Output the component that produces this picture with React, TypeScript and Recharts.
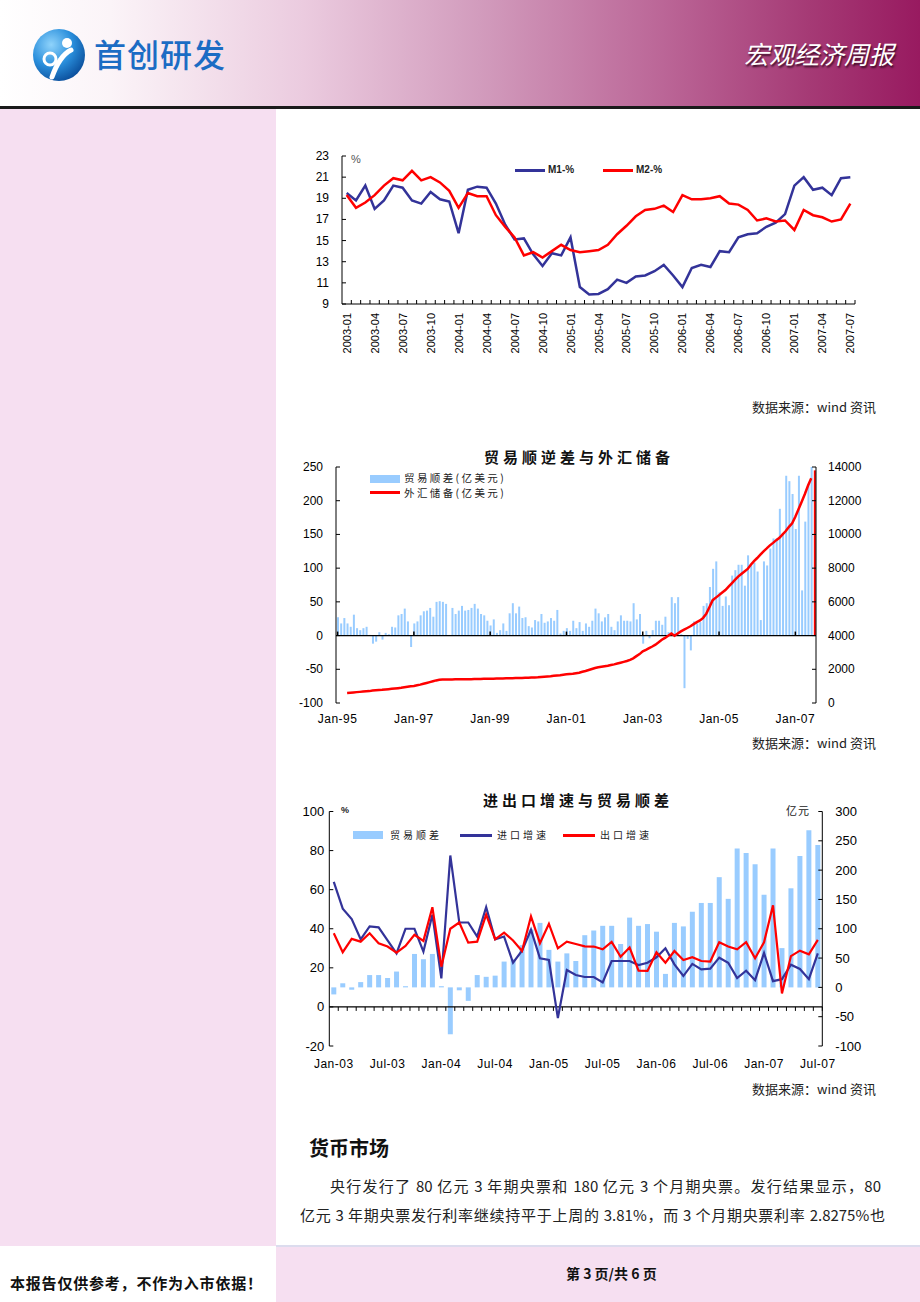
import React from "react";
import { ComposedChart, Line, Bar, Cell, XAxis, YAxis, ReferenceLine } from "recharts";

const NUM_FONT = "'Liberation Sans', Arial, Helvetica, sans-serif";
const CJK_FONT = "'Noto Sans CJK SC', 'Noto Sans', sans-serif";
const NAVY = "#333399";
const RED = "#FF0000";
const BAR_BLUE = "#99CCFF";
const PINK = "#F6DFF1";

const MONTH_NAMES = ["Jan", "Feb", "Mar", "Apr", "May", "Jun", "Jul", "Aug", "Sep", "Oct", "Nov", "Dec"];

// month category keys, e.g. "2003-01" or "Jan-03"
function months(y0: number, count: number, style: "iso" | "mon"): string[] {
  const out: string[] = [];
  for (let k = 0; k < count; k++) {
    const y = y0 + Math.floor(k / 12);
    const m = k % 12;
    out.push(
      style === "iso"
        ? `${y}-${String(m + 1).padStart(2, "0")}`
        : `${MONTH_NAMES[m]}-${String(y % 100).padStart(2, "0")}`
    );
  }
  return out;
}

// ---- chart 1: M1 / M2 growth, 2003-01 .. 2007-07 ----
const MS_MONTHS = months(2003, 55, "iso");
const M1 = [
  19.5, 18.8, 20.2, 18.0, 18.8, 20.2, 20.0, 18.8, 18.5, 19.6, 18.9, 18.7,
  15.7, 19.8, 20.1, 20.0, 18.5, 16.5, 15.1, 15.2, 13.7, 12.6, 13.8, 13.6,
  15.3, 10.6, 9.9, 9.95, 10.4, 11.3, 11.0, 11.6, 11.7, 12.1, 12.7, 11.7,
  10.6, 12.4, 12.7, 12.5, 14.0, 13.9, 15.3, 15.6, 15.7, 16.3, 16.7, 17.5,
  20.2, 21.0, 19.8, 20.0, 19.3, 20.9, 21.0,
];
const M2 = [
  19.3, 18.1, 18.6, 19.3, 20.2, 20.9, 20.7, 21.6, 20.7, 21.0, 20.5, 19.7,
  18.1, 19.5, 19.2, 19.2, 17.4, 16.3, 15.3, 13.6, 13.9, 13.4, 14.0, 14.6,
  14.1, 13.9, 14.0, 14.1, 14.6, 15.6, 16.4, 17.3, 17.9, 18.0, 18.3, 17.7,
  19.3, 18.9, 18.9, 19.0, 19.2, 18.5, 18.4, 17.9, 16.9, 17.1, 16.8, 16.9,
  16.0, 17.9, 17.4, 17.2, 16.8, 17.0, 18.5,
];
const MS_TICK_LABELS = [
  "2003-01", "2003-04", "2003-07", "2003-10", "2004-01", "2004-04", "2004-07",
  "2004-10", "2005-01", "2005-04", "2005-07", "2005-10", "2006-01", "2006-04",
  "2006-07", "2006-10", "2007-01", "2007-04", "2007-07",
];
const MS_Y_TICKS = [9, 11, 13, 15, 17, 19, 21, 23];

// ---- chart 2: trade balance & FX reserves, Jan-95 .. Jul-07 (亿美元) ----
const TRADE_MONTHS = months(1995, 151, "mon");
// last entry is the red bar at the right edge
const TRADE_BAL = [
  27, 18, 26, 18, 13, 31, 11, 8, 11, 13, 1, -12,
  -9, 5, -6, 4, 2, 13, 12, 30, 32, 40, 21, -17,
  18, 21, 30, 36, 37, 41, 28, 50, 51, 50, 47, 1,
  41, 32, 37, 44, 37, 38, 41, 47, 40, 32, 30, 22,
  15, 24, 4, 8, 18, 7, 33, 48, 33, 43, 26, 27,
  14, 12, 23, 21, 32, 19, 21, 26, 22, 38, 3, 7,
  11, 7, 22, 11, 20, 7, 18, 13, 22, 40, 33, 21,
  27, 32, 13, 8, 21, 30, 22, 22, 21, 48, 24, 32,
  -12, 7, -4, 8, 22, 22, 16, 28, 5, 57, 48, 57,
  2, -78, -5, -22, 21, 18, 20, 44, 48, 72, 99, 110,
  64, 44, 58, 45, 89, 97, 105, 105, 74, 119, 105, 108,
  95, 23, 110, 104, 129, 144, 144, 188, 151, 237, 229, 210,
  158, 237, 67, 169, 224, 255, 245,
];
const FX_RESERVES = [
  null, null, null, 600, 615, 630, 645, 660, 675, 690, 705, 736,
  750, 765, 780, 800, 820, 840, 860, 880, 900, 930, 960, 990,
  1010, 1050, 1090, 1140, 1190, 1240, 1290, 1340, 1380, 1390, 1395, 1398,
  1400, 1402, 1404, 1406, 1408, 1410, 1415, 1420, 1425, 1430, 1435, 1438,
  1440, 1445, 1450, 1455, 1460, 1465, 1470, 1475, 1480, 1485, 1490, 1495,
  1500, 1510, 1520, 1530, 1545, 1560, 1575, 1590, 1610, 1630, 1650, 1680,
  1700, 1720, 1740, 1770, 1800, 1850, 1900, 1960, 2020, 2080, 2120, 2150,
  2180, 2210, 2250, 2290, 2340, 2390, 2440, 2490, 2560, 2650, 2780, 2900,
  3060, 3150, 3250, 3350, 3460, 3600, 3750, 3860, 3990, 4120, 3990, 4120,
  4250, 4350, 4450, 4550, 4680, 4800, 4900, 5050, 5300, 5700, 6100, 6250,
  6400, 6550, 6700, 6900, 7100, 7300, 7500, 7650, 7800, 7950, 8200, 8420,
  8600, 8800, 9000, 9170, 9350, 9500, 9660, 9800, 10000, 10200, 10450, 10660,
  11050, 11500, 11940, 12400, 12900, 13326, null,
];
const TRADE_TICKS = ["Jan-95", "Jan-97", "Jan-99", "Jan-01", "Jan-03", "Jan-05", "Jan-07"];
const TRADE_Y_LEFT = [-100, -50, 0, 50, 100, 150, 200, 250];
const TRADE_Y_RIGHT = [0, 2000, 4000, 6000, 8000, 10000, 12000, 14000];

// ---- chart 3: import / export growth & trade balance, Jan-03 .. Jul-07 ----
const IE_MONTHS = months(2003, 55, "mon");
const IE_BAL = [
  -12, 7, -4, 9, 21, 21, 16, 27, 2, 57, 48, 57,
  2, -80, -5, -23, 21, 18, 20, 44, 48, 72, 99, 110,
  64, 44, 58, 45, 89, 97, 105, 105, 74, 119, 105, 108,
  95, 23, 110, 104, 129, 144, 144, 188, 151, 237, 229, 210,
  158, 237, 67, 169, 224, 268, 243,
];
const IMPORT_GROWTH = [
  64, 50.3, 45, 34.6, 41.2, 40.7, 34, 27.4, 40, 40, 28.3, 47.2,
  14.6, 77.5, 43.2, 43.2, 36, 51, 34.6, 36, 22.6, 28.8, 39.5, 24.9,
  24, -5.7, 18.9, 16.3, 15.3, 15.3, 12.5, 23.5, 23.5, 23.5, 21.4, 22.6,
  25.4, 30, 21.8, 15.8, 22, 19.2, 19.6, 25.2, 22.6, 14.8, 18.5, 13.7,
  27.6, 13.2, 14.2, 21.6, 19.4, 14.2, 27.4,
];
const EXPORT_GROWTH = [
  37.7, 28, 34.8, 33.4, 37.7, 32.6, 30.9, 27.8, 31.2, 36.9, 33.8, 51,
  20.6, 40, 43.2, 32.9, 33.4, 47.2, 34.6, 38, 34, 28.6, 46.3, 32.6,
  42.5, 30, 33.4, 32.2, 31, 30.9, 29.5, 33.3, 25.7, 30.4, 18.5, 18.4,
  28, 22.6, 28.6, 24, 25.4, 23.5, 23.2, 33.1, 30.9, 29.5, 33.1, 24.9,
  33.1, 52, 6.9, 26, 28.8, 26.9, 34.3,
];
const IE_TICKS = ["Jan-03", "Jul-03", "Jan-04", "Jul-04", "Jan-05", "Jul-05", "Jan-06", "Jul-06", "Jan-07", "Jul-07"];
const IE_Y_LEFT = [-20, 0, 20, 40, 60, 80, 100];
const IE_Y_RIGHT = [-100, -50, 0, 50, 100, 150, 200, 250, 300];

const msData = MS_MONTHS.map((m, i) => ({ m, m1: M1[i], m2: M2[i] }));
const tradeData = TRADE_MONTHS.map((m, i) => ({ m, bal: TRADE_BAL[i], fx: FX_RESERVES[i] }));
const ieData = IE_MONTHS.map((m, i) => ({ m, bal: IE_BAL[i], imp: IMPORT_GROWTH[i], exp: EXPORT_GROWTH[i] }));

// y tick with a short inward tick mark
const makeYTick = (side: "left" | "right", margin: number, fontSize: number) => (props: any) => {
  const { x, y, payload } = props;
  const axisX = side === "left" ? x + margin : x - margin;
  const dir = side === "left" ? 4 : -4;
  return (
    <g>
      <line x1={axisX} x2={axisX + dir} y1={y} y2={y} stroke="#000" />
      <text
        x={x}
        y={y}
        textAnchor={side === "left" ? "end" : "start"}
        dominantBaseline="central"
        fontSize={fontSize}
        fontFamily={NUM_FONT}
        fill="#000"
      >
        {payload.value}
      </text>
    </g>
  );
};

// chart 1 sizes
const C1_W = 590, C1_H = 230, C1_YW = 52, C1_RIGHT = 25, C1_XM = 9;
const C1_BAND = (C1_W - C1_YW - C1_RIGHT) / MS_MONTHS.length;

function MsXTick(props: any) {
  const { x, y, payload } = props;
  const axisY = y - C1_XM;
  return (
    <g>
      <line x1={x + C1_BAND / 2} x2={x + C1_BAND / 2} y1={axisY} y2={axisY - 4} stroke="#000" />
      {MS_TICK_LABELS.includes(payload.value) && (
        <text
          transform={`translate(${x + 4},${y}) rotate(-90)`}
          textAnchor="end"
          fontSize={11}
          fontFamily={NUM_FONT}
          fill="#000"
        >
          {payload.value}
        </text>
      )}
    </g>
  );
}

// chart 2 sizes
const C2_W = 620, C2_H = 290, C2_TOP = 17, C2_XH = 37, C2_XM = 11;
const C2_PLOT_H = C2_H - C2_TOP - C2_XH;
const C2_ZERO_OFF = (C2_PLOT_H * 100) / 350;

function TradeXTick(props: any) {
  const { x, y, payload } = props;
  const zeroY = y - C2_XM - C2_ZERO_OFF;
  return (
    <g>
      <line x1={x} x2={x} y1={zeroY} y2={zeroY - 4} stroke="#000" strokeWidth={1.5} />
      <text x={x} y={y} dy="0.71em" textAnchor="middle" fontSize={12} letterSpacing={0.5} fontFamily={NUM_FONT} fill="#000">
        {payload.value}
      </text>
    </g>
  );
}

// chart 3 sizes
const C3_W = 620, C3_H = 290, C3_TOP = 21.5, C3_XH = 34, C3_YL = 59.3, C3_YR = 67.7, C3_XM = 13;
const C3_PLOT_H = C3_H - C3_TOP - C3_XH;
const C3_ZERO_OFF = (C3_PLOT_H * 20) / 120;
const C3_BAND = (C3_W - C3_YL - C3_YR) / IE_MONTHS.length;

function IeXTick(props: any) {
  const { x, y, payload } = props;
  const zeroY = y - C3_XM - C3_ZERO_OFF;
  return (
    <g>
      <line x1={x + C3_BAND / 2} x2={x + C3_BAND / 2} y1={zeroY} y2={zeroY + 4} stroke="#000" />
      {IE_TICKS.includes(payload.value) && (
        <text x={x} y={y} dy="0.71em" textAnchor="middle" fontSize={12} letterSpacing={0.5} fontFamily={NUM_FONT} fill="#000">
          {payload.value}
        </text>
      )}
    </g>
  );
}

const abs = (left: number, top: number, extra: React.CSSProperties = {}): React.CSSProperties => ({
  position: "absolute",
  left,
  top,
  ...extra,
});

const legendText: React.CSSProperties = { fontFamily: CJK_FONT, fontSize: 10, color: "#222", letterSpacing: 3, lineHeight: "12px" };

function Header() {
  return (
    <>
      <div
        style={abs(0, 0, {
          width: 920,
          height: 106,
          background:
            "linear-gradient(90deg, #ffffff 0%, #fbf4f8 12%, #ebcbdf 33%, #d29cbd 52%, #bb6697 72%, #a53a75 88%, #981a60 100%)",
        })}
      />
      <div style={abs(0, 106, { width: 920, height: 3, background: "#1a1a1a" })} />
      <svg style={abs(30, 27)} width={60} height={56}>
        <defs>
          <radialGradient id="logoG" cx="35%" cy="30%" r="75%">
            <stop offset="0%" stopColor="#8fd3fb" />
            <stop offset="55%" stopColor="#2a8fdc" />
            <stop offset="100%" stopColor="#0b4f9c" />
          </radialGradient>
        </defs>
        <circle cx={29} cy={28} r={26} fill="url(#logoG)" />
        <circle cx={37} cy={16} r={5} fill="#fff" />
        <path d="M41 23 C 33 27, 27 36, 22 50" stroke="#fff" strokeWidth={5} fill="none" strokeLinecap="round" />
        <circle cx={20} cy={32} r={6} fill="none" stroke="#fff" strokeWidth={3} />
      </svg>
      <div style={abs(94, 33, { fontFamily: CJK_FONT, fontSize: 32, fontWeight: 500, color: "#1b6cc4", letterSpacing: 1, lineHeight: "40px" })}>
        首创研发
      </div>
      <div
        style={abs(744, 37, {
          fontFamily: CJK_FONT,
          fontSize: 25,
          color: "#fff",
          fontStyle: "italic",
          lineHeight: "32px",
          textShadow: "1px 2px 2px #3a0a24",
        })}
      >
        宏观经济周报
      </div>
    </>
  );
}

function SourceNote({ top }: { top: number }) {
  return (
    <div style={abs(700, top, { width: 176, textAlign: "right", fontFamily: CJK_FONT, fontSize: 13, color: "#222", lineHeight: "16px" })}>
      数据来源：wind 资讯
    </div>
  );
}

function MoneyChart() {
  return (
    <div style={abs(290, 140)}>
      <ComposedChart width={C1_W} height={C1_H} data={msData} margin={{ top: 16, right: C1_RIGHT, left: 0, bottom: 0 }}>
        <XAxis
          dataKey="m"
          scale="band"
          interval={0}
          height={66}
          tickSize={0}
          tickMargin={C1_XM}
          tickLine={false}
          axisLine={{ stroke: "#000" }}
          tick={MsXTick}
        />
        <YAxis
          domain={[9, 23]}
          ticks={MS_Y_TICKS}
          interval={0}
          width={C1_YW}
          tickSize={0}
          tickMargin={13}
          tickLine={false}
          axisLine={{ stroke: "#000" }}
          tick={makeYTick("left", 13, 12)}
        />
        <Line type="linear" dataKey="m1" stroke={NAVY} strokeWidth={2.5} dot={false} isAnimationActive={false} />
        <Line type="linear" dataKey="m2" stroke={RED} strokeWidth={2.5} dot={false} isAnimationActive={false} />
      </ComposedChart>
    </div>
  );
}

function TradeChart() {
  const last = tradeData.length - 1;
  return (
    <div style={abs(270, 450)}>
      <ComposedChart width={C2_W} height={C2_H} data={tradeData} margin={{ top: C2_TOP, right: 0, left: 0, bottom: 0 }}>
        <XAxis
          dataKey="m"
          interval={0}
          ticks={TRADE_TICKS}
          height={C2_XH}
          tickSize={0}
          tickMargin={C2_XM}
          tickLine={false}
          axisLine={false}
          tick={TradeXTick}
        />
        <YAxis
          yAxisId="left"
          domain={[-100, 250]}
          ticks={TRADE_Y_LEFT}
          interval={0}
          allowDataOverflow
          width={66}
          tickSize={0}
          tickMargin={13}
          tickLine={false}
          axisLine={{ stroke: "#000" }}
          tick={makeYTick("left", 13, 12)}
        />
        <YAxis
          yAxisId="right"
          orientation="right"
          domain={[0, 14000]}
          ticks={TRADE_Y_RIGHT}
          interval={0}
          width={74}
          tickSize={0}
          tickMargin={12}
          tickLine={false}
          axisLine={{ stroke: "#000" }}
          tick={makeYTick("right", 12, 12)}
        />
        <Bar yAxisId="left" dataKey="bal" barSize={2} fill={BAR_BLUE} isAnimationActive={false}>
          {tradeData.map((_, i) => (
            <Cell key={`c-${i}`} fill={i === last ? RED : BAR_BLUE} />
          ))}
        </Bar>
        <ReferenceLine yAxisId="left" y={0} stroke="#000" strokeWidth={1.2} />
        <Line yAxisId="right" type="linear" dataKey="fx" stroke={RED} strokeWidth={2.5} dot={false} isAnimationActive={false} />
      </ComposedChart>
    </div>
  );
}

function TradeGrowthChart() {
  return (
    <div style={abs(270, 790)}>
      <ComposedChart width={C3_W} height={C3_H} data={ieData} margin={{ top: C3_TOP, right: 0, left: 0, bottom: 0 }}>
        <XAxis
          dataKey="m"
          interval={0}
          height={C3_XH}
          tickSize={0}
          tickMargin={C3_XM}
          tickLine={false}
          axisLine={false}
          tick={IeXTick}
        />
        <YAxis
          yAxisId="left"
          domain={[-20, 100]}
          ticks={IE_Y_LEFT}
          interval={0}
          width={C3_YL}
          tickSize={0}
          tickMargin={5}
          tickLine={false}
          axisLine={{ stroke: "#000" }}
          tick={makeYTick("left", 5, 13)}
        />
        <YAxis
          yAxisId="right"
          orientation="right"
          domain={[-100, 300]}
          ticks={IE_Y_RIGHT}
          interval={0}
          width={C3_YR}
          tickSize={0}
          tickMargin={13}
          tickLine={false}
          axisLine={{ stroke: "#000" }}
          tick={makeYTick("right", 13, 13)}
        />
        <Bar yAxisId="right" dataKey="bal" barSize={5} fill={BAR_BLUE} isAnimationActive={false} />
        <ReferenceLine yAxisId="left" y={0} stroke="#000" strokeWidth={1.2} />
        <Line yAxisId="left" type="linear" dataKey="imp" stroke={NAVY} strokeWidth={2.2} dot={false} isAnimationActive={false} />
        <Line yAxisId="left" type="linear" dataKey="exp" stroke={RED} strokeWidth={2.2} dot={false} isAnimationActive={false} />
      </ComposedChart>
    </div>
  );
}

export default function App() {
  return (
    <div style={{ position: "absolute", left: 0, top: 0, width: 920, height: 1302, background: "#fff", overflow: "hidden", fontFamily: CJK_FONT }}>
      <Header />
      <div style={abs(0, 109, { width: 276, height: 1137, background: PINK })} />

      {/* chart 1 */}
      <MoneyChart />
      <div style={abs(351, 153, { fontFamily: NUM_FONT, fontSize: 11, color: "#555" })}>%</div>
      <div style={abs(515, 169, { width: 30, height: 2.5, background: NAVY })} />
      <div style={abs(548, 164, { fontFamily: NUM_FONT, fontSize: 10, fontWeight: 700, color: "#222", lineHeight: "12px" })}>M1-%</div>
      <div style={abs(603, 169, { width: 30, height: 2.5, background: RED })} />
      <div style={abs(636, 164, { fontFamily: NUM_FONT, fontSize: 10, fontWeight: 700, color: "#222", lineHeight: "12px" })}>M2-%</div>
      <SourceNote top={399} />

      {/* chart 2 */}
      <div style={abs(484, 447, { fontFamily: CJK_FONT, fontSize: 15, fontWeight: 700, letterSpacing: 4, color: "#111", lineHeight: "20px" })}>
        贸易顺逆差与外汇储备
      </div>
      <TradeChart />
      <div style={abs(370, 475, { width: 30, height: 8, background: BAR_BLUE })} />
      <div style={abs(404, 472, { ...legendText, fontSize: 10.5, letterSpacing: 2.4, lineHeight: "12px" })}>贸易顺差(亿美元)</div>
      <div style={abs(370, 491, { width: 30, height: 2.5, background: RED })} />
      <div style={abs(404, 487, { ...legendText, fontSize: 10.5, letterSpacing: 2.4, lineHeight: "12px" })}>外汇储备(亿美元)</div>
      <SourceNote top={735} />

      {/* chart 3 */}
      <div style={abs(483, 790, { fontFamily: CJK_FONT, fontSize: 15, fontWeight: 700, letterSpacing: 4, color: "#111", lineHeight: "20px" })}>
        进出口增速与贸易顺差
      </div>
      <TradeGrowthChart />
      <div style={abs(341, 805, { fontFamily: NUM_FONT, fontSize: 9, fontWeight: 700, color: "#222" })}>%</div>
      <div style={abs(786, 804, { ...legendText, fontSize: 11, letterSpacing: 1 })}>亿元</div>
      <div style={abs(353, 831, { width: 30, height: 8, background: BAR_BLUE })} />
      <div style={abs(390, 829, legendText)}>贸易顺差</div>
      <div style={abs(460, 834, { width: 32, height: 2.5, background: NAVY })} />
      <div style={abs(497, 829, legendText)}>进口增速</div>
      <div style={abs(563, 834, { width: 32, height: 2.5, background: RED })} />
      <div style={abs(600, 829, legendText)}>出口增速</div>
      <SourceNote top={1081} />

      {/* text */}
      <div style={abs(309, 1135, { fontFamily: CJK_FONT, fontSize: 20, fontWeight: 700, color: "#111", lineHeight: "26px" })}>货币市场</div>
      <div style={abs(330, 1175, { width: 551, fontSize: 15, color: "#222", lineHeight: "22px", textAlign: "justify", textAlignLast: "justify" })}>
        央行发行了 80 亿元 3 年期央票和 180 亿元 3 个月期央票。发行结果显示，80
      </div>
      <div style={abs(300, 1204, { width: 585, fontSize: 15, color: "#222", lineHeight: "22px", textAlign: "justify", textAlignLast: "justify" })}>
        亿元 3 年期央票发行利率继续持平于上周的 3.81%，而 3 个月期央票利率 2.8275%也
      </div>

      {/* footer */}
      <div style={abs(276, 1245, { width: 644, height: 2, background: "#dcdcee" })} />
      <div style={abs(276, 1247, { width: 644, height: 55, background: PINK })} />
      <div style={abs(566, 1263, { fontFamily: CJK_FONT, fontSize: 14, fontWeight: 700, color: "#111", lineHeight: "20px" })}>第 3 页/共 6 页</div>
      <div style={abs(10, 1272, { width: 252, fontSize: 15, fontWeight: 700, color: "#111", lineHeight: "22px", textAlign: "justify", textAlignLast: "justify" })}>
        本报告仅供参考，不作为入市依据！
      </div>
    </div>
  );
}
